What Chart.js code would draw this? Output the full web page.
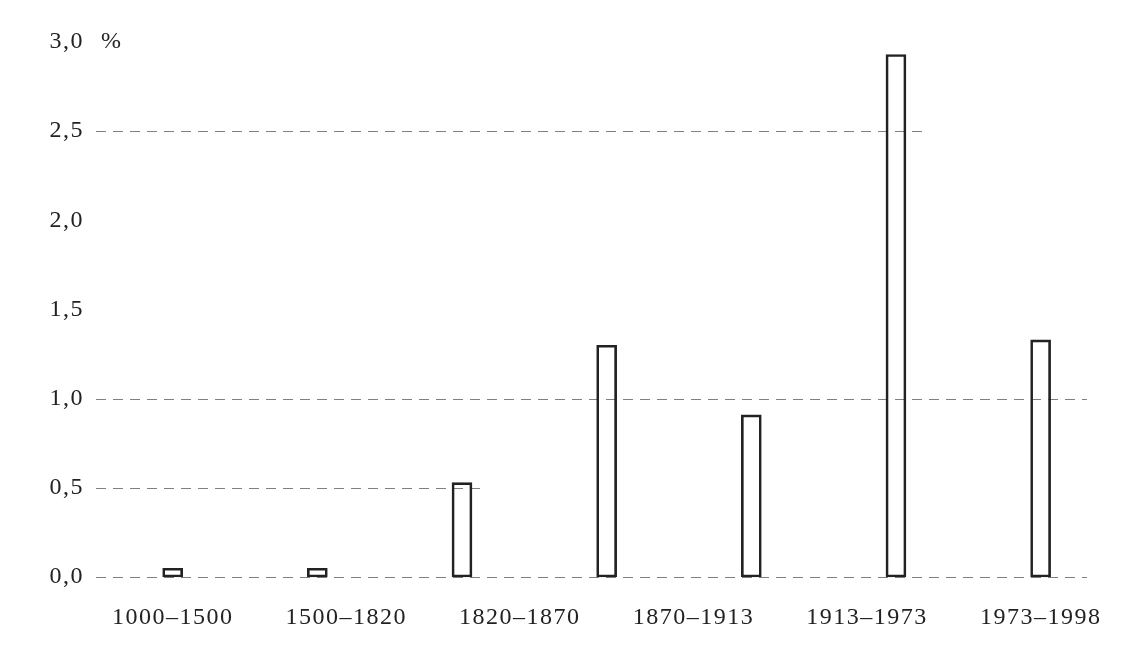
<!DOCTYPE html>
<html lang="de">
<head>
<meta charset="UTF-8">
<title>Wachstum des BIP pro Kopf</title>
<script src="https://cdn.jsdelivr.net/npm/chart.js"></script>
<style>
body {
  margin: 0;
  background: #ffffff;
}
#wrap {
  width: 1121px;
  height: 658px;
}
</style>
</head>
<body>
<div id="wrap"><canvas id="chart"></canvas></div>
<script>
// Balken (7 Perioden) und Beschriftungen (6 Stück, wie im Original)
const barValues = [0.05, 0.05, 0.53, 1.30, 0.91, 2.93, 1.33];
const periodLabels = ["1000–1500", "1500–1820", "1820–1870", "1870–1913", "1913–1973", "1973–1998"];
const yTicks = [0, 0.5, 1.0, 1.5, 2.0, 2.5, 3.0];
// gestrichelte Linien: Wert und Ende (in Balken-Einheiten, null = ganz)
const gridValues = [0, 0.5, 1.0, 2.5];
const gridEnds = [null, 2.15, null, 5.21];

const FONT = "'Liberation Serif', 'DejaVu Serif', serif";

const dashedGrid = {
  id: "dashedGrid",
  beforeDraw(chart) {
    chart.ctx.letterSpacing = "1.5px";
  },
  beforeDatasetsDraw(chart) {
    const { ctx, chartArea, scales } = chart;
    ctx.save();
    ctx.strokeStyle = "#808080";
    ctx.lineWidth = 1;
    ctx.setLineDash([10, 7]);
    gridValues.forEach((v, i) => {
      const y = Math.round(scales.y.getPixelForValue(v)) + 0.5;
      const x1 = gridEnds[i] === null ? chartArea.right : scales.x.getPixelForValue(gridEnds[i]);
      ctx.beginPath();
      ctx.moveTo(chartArea.left, y);
      ctx.lineTo(x1, y);
      ctx.stroke();
    });
    ctx.restore();
  },
  afterDraw(chart) {
    const { ctx, chartArea, scales } = chart;
    ctx.save();
    ctx.fillStyle = "#222";
    ctx.font = "24px " + FONT;
    ctx.textBaseline = "middle";
    ctx.fillText("%", chartArea.left + 5, scales.y.getPixelForValue(3.0));
    ctx.restore();
  }
};

new Chart(document.getElementById("chart"), {
  type: "bar",
  data: {
    datasets: [{
      data: barValues.map((v, i) => ({ x: i, y: v })),
      backgroundColor: "rgba(255,255,255,0)",
      borderColor: "#222",
      borderWidth: 2,
      borderSkipped: false,
      barThickness: 20
    }]
  },
  options: {
    responsive: true,
    maintainAspectRatio: false,
    animation: false,
    layout: { padding: { top: 42, right: 8, bottom: 0, left: 42 } },
    plugins: {
      legend: { display: false },
      tooltip: { enabled: false }
    },
    scales: {
      x: {
        type: "linear",
        offset: false,
        min: -0.53,
        max: 6.32,
        grid: { display: false, drawTicks: false },
        border: { display: false },
        afterBuildTicks(scale) {
          const step = (barValues.length - 1) / (periodLabels.length - 1);
          scale.ticks = periodLabels.map((l, i) => ({ value: i * step }));
        },
        ticks: {
          autoSkip: false,
          maxRotation: 0,
          padding: 26,
          color: "#222",
          font: { family: FONT, size: 24 },
          callback: (value, index) => periodLabels[index]
        }
      },
      y: {
        min: 0,
        max: 3,
        afterBuildTicks(scale) {
          scale.ticks = yTicks.map(v => ({ value: v }));
        },
        grid: { display: false, drawTicks: false },
        border: { display: false },
        ticks: {
          padding: 12,
          color: "#222",
          font: { family: FONT, size: 24 },
          callback: v => v.toFixed(1).replace(".", ",")
        }
      }
    }
  },
  plugins: [dashedGrid]
});
</script>
</body>
</html>
